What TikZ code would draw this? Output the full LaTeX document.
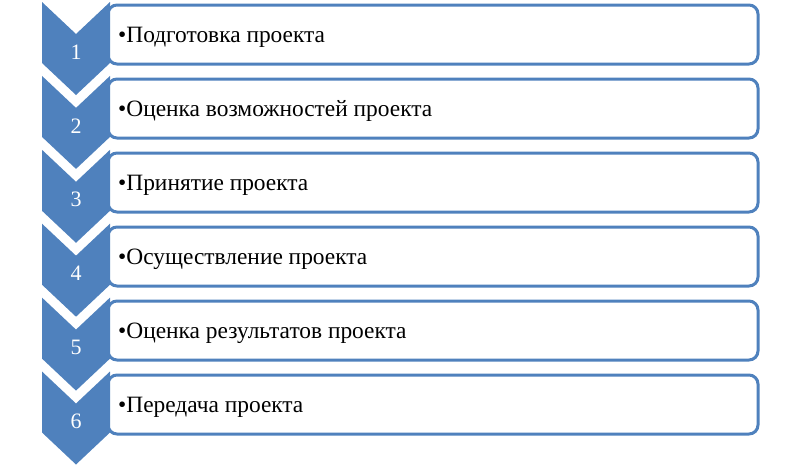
\documentclass[tikz,border=0pt]{standalone}
\usepackage{fontspec}
\setmainfont{Liberation Serif}
\definecolor{accent}{HTML}{4F81BD}
\begin{document}
\begin{tikzpicture}[x=1pt,y=-1pt,
  chev/.style={fill=accent,draw=none},
  stepbox/.style={draw=accent,line width=3pt,rounded corners=9pt,fill=white},
  num/.style={text=white,font=\fontsize{22}{24}\selectfont,inner sep=0pt},
  lbl/.style={anchor=base west,font=\fontsize{23.4}{26}\selectfont,inner sep=0pt}]
\useasboundingbox (0,0) rectangle (788,464);
\foreach \k/\t in {1/Подготовка проекта,2/Оценка возможностей проекта,3/Принятие проекта,4/Осуществление проекта,5/Оценка результатов проекта,6/Передача проекта}{
  \pgfmathsetmacro{\T}{2+73.9*(\k-1)}
  \pgfmathsetmacro{\B}{5+74*(\k-1)}
  \draw[stepbox] (108,\B) rectangle (758,\B+59);
  \fill[chev] (42,\T) -- (76,\T+32) -- (110,\T) -- (110,\T+61) -- (76,\T+93) -- (42,\T+61) -- cycle;
  \node[num] (n\k) at (76,\T+50) {\k};
  \node[lbl] (t\k) at (118,\B+37) {•\t};
}
\end{tikzpicture}
\end{document}
